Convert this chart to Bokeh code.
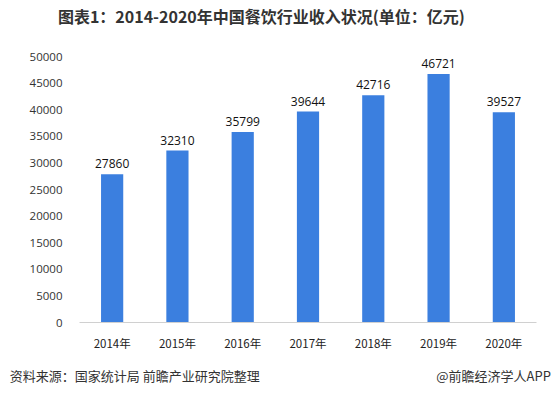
from bokeh.plotting import figure
from bokeh.models import (ColumnDataSource, Range1d, LabelSet, FixedTicker, LinearAxis)
from bokeh.core.properties import value
from bokeh.embed import file_html
from bokeh.resources import INLINE

years = ["2014年", "2015年", "2016年", "2017年", "2018年", "2019年", "2020年"]
revenue = [27860, 32310, 35799, 39644, 42716, 46721, 39527]
y_ticks = [0, 5000, 10000, 15000, 20000, 25000, 30000, 35000, 40000, 45000, 50000]

title_text = "图表1：2014-2020年中国餐饮行业收入状况(单位：亿元)"
source_text = "资料来源：国家统计局 前瞻产业研究院整理"
brand_text = "@前瞻经济学人APP"

FONT = "Noto Sans CJK SC"

idx = list(range(len(years)))
src = ColumnDataSource(dict(x=idx, top=revenue, lab=[str(v) for v in revenue]))

p = figure(width=553, height=395, x_range=Range1d(-0.5, len(years) - 0.5),
           y_range=Range1d(0, 50000),
           output_backend="svg", toolbar_location=None,
           min_border_left=79, min_border_right=17, min_border_top=56, min_border_bottom=73)
p.outline_line_color = None
p.background_fill_color = "white"
p.border_fill_color = "white"
p.xgrid.grid_line_color = None
p.ygrid.grid_line_color = None

p.vbar(x="x", top="top", width=0.34, source=src, fill_color="#3b7fdf", line_color=None)

labels = LabelSet(x="x", y="top", text="lab", source=src, y_offset=6,
                  text_align="center", text_baseline="bottom",
                  text_font_size=value("12px"), text_color=value("#111111"),
                  text_font=value("Open Sans"))
p.add_layout(labels)

p.yaxis.ticker = FixedTicker(ticks=y_ticks)
p.yaxis.axis_line_color = None
p.yaxis.major_tick_line_color = None
p.yaxis.minor_tick_line_color = None
p.yaxis.major_label_text_font_size = "11.5px"
p.yaxis.major_label_text_color = "#333333"
p.yaxis.major_label_text_font = "Open Sans"
p.yaxis.major_label_standoff = 11

p.xaxis.ticker = FixedTicker(ticks=idx)
p.xaxis.major_label_overrides = {i: y for i, y in zip(idx, years)}
p.xaxis.axis_line_color = "#d0d0d0"
p.xaxis.major_tick_line_color = None
p.xaxis.minor_tick_line_color = None
p.xaxis.major_label_text_font_size = "11.5px"
p.xaxis.major_label_text_color = "#222222"
p.xaxis.major_label_text_font = FONT
p.xaxis.major_label_standoff = 6

# helper range (0..1000 across the plot frame) used to place the title and footer texts
p.extra_x_ranges = {"page": Range1d(0, 1000)}

head = LinearAxis(x_range_name="page", ticker=FixedTicker(ticks=[398]),
                  major_label_overrides={398: title_text})
head.axis_line_color = None
head.major_tick_line_color = None
head.minor_tick_line_color = None
head.major_label_text_font = FONT
head.major_label_text_font_style = "bold"
head.major_label_text_font_size = "16px"
head.major_label_text_color = "#333333"
head.major_label_standoff = 23
p.add_layout(head, "above")

foot = LinearAxis(x_range_name="page", ticker=FixedTicker(ticks=[121, 906]),
                  major_label_overrides={121: source_text, 906: brand_text})
foot.axis_line_color = None
foot.major_tick_line_color = None
foot.minor_tick_line_color = None
foot.major_label_text_font = FONT
foot.major_label_text_font_size = "13px"
foot.major_label_text_color = "#333333"
foot.major_label_standoff = 6
p.add_layout(foot, "below")

open("out.html", "w").write(file_html(p, INLINE))
